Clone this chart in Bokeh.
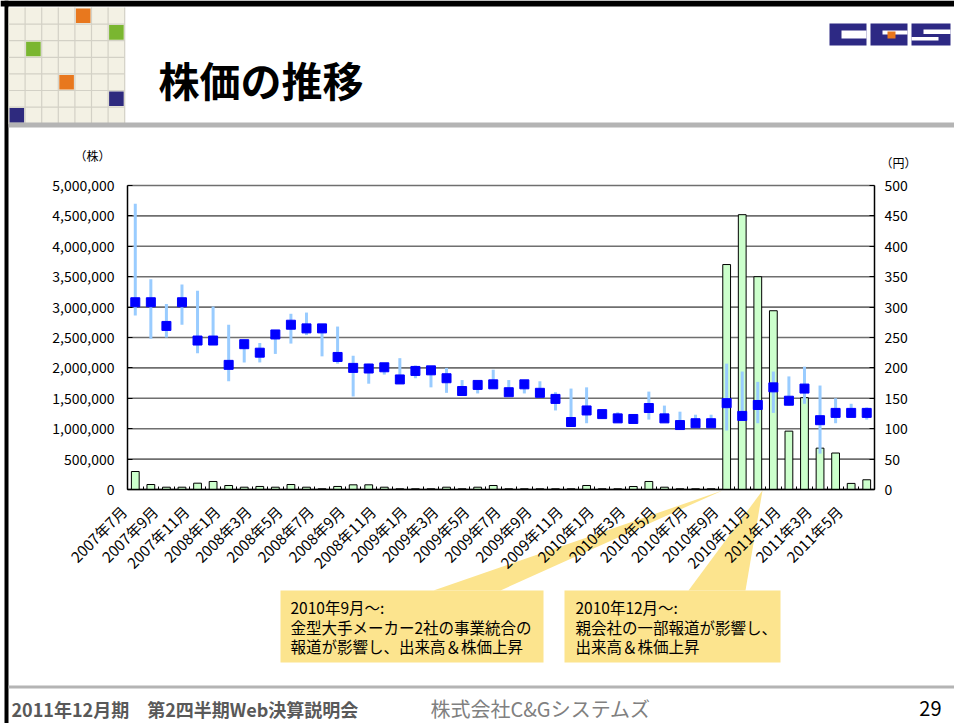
import math
from bokeh.plotting import figure
from bokeh.models import (Range1d, LinearAxis, FixedTicker, NumeralTickFormatter,
                          PolyAnnotation, Label)
from bokeh.embed import file_html
from bokeh.resources import INLINE

# ---------------- data ----------------
month_no = list(range(1, 49))  # 2007-07 ... 2011-06

volume = [296000, 82000, 38000, 38000, 104000, 132000, 66000, 38000, 50000, 38000,
          82000, 38000, 12000, 50000, 77000, 77000, 38000, 12000, 12000, 12000,
          38000, 12000, 38000, 66000, 12000, 12000, 12000, 12000, 12000, 66000,
          12000, 12000, 49000, 132000, 38000, 12000, 12000, 12000, 3700000, 4520000,
          3500000, 2940000, 960000, 1510000, 680000, 600000, 100000, 160000]

close = [308, 308, 269, 308, 245, 245, 205, 239, 225, 255,
         271, 265, 265, 218, 200, 199, 201, 181, 195, 196,
         183, 162, 172, 173, 160, 173, 159, 149, 111, 130,
         124, 117, 116, 134, 117, 106, 109, 109, 142, 121,
         139, 168, 146, 166, 114, 126, 126, 126]

high = [470, 346, 305, 337, 327, 301, 271, 245, 241, 262,
        289, 291, 271, 268, 220, 207, 207, 216, 204, 198,
        200, 180, 178, 197, 180, 180, 178, 160, 166, 168,
        129, 127, 123, 161, 138, 128, 123, 123, 207, 194,
        177, 194, 186, 202, 171, 150, 141, 135]

low = [286, 248, 250, 271, 224, 240, 178, 209, 209, 223,
       240, 254, 219, 207, 153, 174, 189, 178, 183, 168,
       159, 155, 158, 168, 155, 158, 157, 130, 108, 109,
       116, 114, 114, 115, 114, 104, 104, 104, 97, 117,
       109, 126, 138, 141, 59, 109, 122, 115]

tick_months = month_no[0::2]
tick_labels = ["2007年7月", "2007年9月", "2007年11月", "2008年1月", "2008年3月", "2008年5月",
               "2008年7月", "2008年9月", "2008年11月", "2009年1月", "2009年3月", "2009年5月",
               "2009年7月", "2009年9月", "2009年11月", "2010年1月", "2010年3月", "2010年5月",
               "2010年7月", "2010年9月", "2010年11月", "2011年1月", "2011年3月", "2011年5月"]

vol_max = 5000000
price_max = 500
vol_ticks = list(range(0, vol_max + 1, 500000))
price_ticks = list(range(0, price_max + 1, 50))

FONT = "Noto Sans CJK JP"

# ---------------- layout: the frame is the whole slide ----------------
W, H = 954, 723
PX_L, PX_R, PX_B, PX_T = 127, 874, 489, 185     # chart area on the page
n = len(month_no)
xs_per_px = n / (PX_R - PX_L)
x_lo, x_hi = 0.5, n + 0.5
xr = Range1d(x_lo - PX_L * xs_per_px, x_hi + (W - PX_R) * xs_per_px)
v_per_px = vol_max / (PX_B - PX_T)
yr = Range1d(-(H - PX_B) * v_per_px, vol_max + PX_T * v_per_px)
pr_per_px = price_max / (PX_B - PX_T)
pr = Range1d(-(H - PX_B) * pr_per_px, price_max + PX_T * pr_per_px)

p = figure(width=W, height=H, x_range=xr, y_range=yr,
           output_backend="svg", toolbar_location=None,
           x_axis_location=None, y_axis_location=None,
           min_border=0, min_border_left=0, min_border_right=0,
           min_border_top=0, min_border_bottom=0,
           background_fill_color="white", border_fill_color="white",
           outline_line_color=None)
p.extra_y_ranges = {"price": pr}
p.xgrid.visible = False
p.ygrid.visible = False

# x axis line with category-boundary ticks (sits on the zero line)
xa = LinearAxis(fixed_location=0, bounds=(x_lo, x_hi),
                ticker=FixedTicker(ticks=[], minor_ticks=[m + 0.5 for m in range(0, n + 1)]))
xa.major_tick_line_color = None
xa.major_label_text_alpha = 0
xa.minor_tick_in = 3
xa.minor_tick_out = 0
xa.minor_tick_line_color = "black"
xa.axis_line_color = "black"
xa.axis_line_width = 1.5
p.add_layout(xa, "below")

# x labels (rotated, ends anchored left of each labelled month)
off = 0.74
xt = [m - off for m in tick_months]
xl = LinearAxis(fixed_location=0, bounds=(x_lo - 1, x_hi),
                ticker=FixedTicker(ticks=xt, minor_ticks=[]))
xl.major_label_overrides = {t: l for t, l in zip(xt, tick_labels)}
xl.major_label_orientation = math.pi / 4
xl.axis_line_color = None
xl.major_tick_line_color = None
xl.minor_tick_line_color = None
xl.major_tick_in = 0
xl.major_tick_out = 0
xl.major_label_standoff = 19
xl.major_label_text_font = FONT
xl.major_label_text_font_size = "15px"
xl.major_label_text_color = "black"
p.add_layout(xl, "below")

# left axis (volume)
ya = LinearAxis(fixed_location=x_lo, bounds=(0, vol_max), ticker=FixedTicker(ticks=vol_ticks),
                formatter=NumeralTickFormatter(format="0,0"))
ya.major_tick_in = 5
ya.major_tick_out = 0
ya.minor_tick_line_color = None
ya.axis_line_color = "black"
ya.axis_line_width = 1.5
ya.major_label_standoff = 13
ya.major_label_text_font = FONT
ya.major_label_text_font_size = "14px"
ya.major_label_text_color = "black"
p.add_layout(ya, "left")

# right axis (price)
ra = LinearAxis(y_range_name="price", fixed_location=x_hi, bounds=(0, price_max),
                ticker=FixedTicker(ticks=price_ticks))
ra.major_tick_in = 5
ra.major_tick_out = 0
ra.minor_tick_line_color = None
ra.axis_line_color = "black"
ra.axis_line_width = 1.5
ra.major_label_standoff = 10
ra.major_label_text_font = FONT
ra.major_label_text_font_size = "14px"
ra.major_label_text_color = "black"
p.add_layout(ra, "right")

# horizontal grid lines at the volume ticks
p.segment(x0=x_lo, x1=x_hi, y0=vol_ticks, y1=vol_ticks, line_color="#6f6f6f", line_width=1.6)

# glyphs
p.vbar(x=month_no, top=volume, width=0.5, fill_color="#ccffcc", line_color="black", line_width=1)
p.segment(x0=month_no, y0=low, x1=month_no, y1=high, line_color="#99ccff", line_width=3,
          y_range_name="price")
p.scatter(x=month_no, y=close, marker="square", size=9, fill_color="#0000ff",
          line_color="#0000ff", y_range_name="price")

# ---------------- slide decorations (page px, screen units of the full-page frame) ----------------
def sx(X):
    return X

def sy(Y):
    return H - Y

def poly(pts, color, level="underlay"):
    p.add_layout(PolyAnnotation(xs=[sx(a) for a, b in pts], ys=[sy(b) for a, b in pts],
                                xs_units="screen", ys_units="screen",
                                fill_color=color, fill_alpha=1.0, line_color=None, level=level))

def box(x0, y0, x1, y1, color, level="underlay"):
    poly([(x0, y0), (x1, y0), (x1, y1), (x0, y1)], color, level)

def text(X, Y, s, size, color="black", bold=False, align="left", baseline="middle"):
    p.add_layout(Label(x=sx(X), y=sy(Y), x_units="screen", y_units="screen", text=s,
                       text_font=FONT, text_font_size=f"{size}px", text_color=color,
                       text_font_style="bold" if bold else "normal",
                       text_align=align, text_baseline=baseline))

# slide border
box(0, 0, 954, 6, "black")
box(4, 0, 8, 723, "black")

# mosaic
cell = 16.6
mx0, my0 = 8, 7
box(mx0, my0, mx0 + 7 * cell, my0 + 7 * cell, "#f3f1e4")
for i in range(1, 8):
    box(mx0 + i * cell - 0.6, my0, mx0 + i * cell + 0.6, my0 + 7 * cell, "#d3d1c6")
    box(mx0, my0 + i * cell - 0.6, mx0 + 7 * cell, my0 + i * cell + 0.6, "#d3d1c6")
for c, r, col in [(4, 0, "#e8781e"), (6, 1, "#7ab630"), (1, 2, "#7ab630"),
                  (3, 4, "#e8781e"), (6, 5, "#2e2a7e"), (0, 6, "#2e2a7e")]:
    box(mx0 + c * cell + 1, my0 + r * cell + 1, mx0 + (c + 1) * cell - 1, my0 + (r + 1) * cell - 1, col)

box(8, 122, 954, 127, "#b4b4b4")
box(8, 685, 954, 688, "#b4b4b4")

# logo
NAVY = "#2d2984"
box(829, 23, 866, 45, NAVY)
box(841, 30, 866, 38, "white")
box(870, 23, 907, 45, NAVY)
box(882, 30, 907, 34, "white")
box(887, 31, 895, 38, "#e8781e")
box(911, 23, 950, 45, NAVY)
box(923, 29, 950, 33.5, "white")
box(911, 36.5, 938, 40, "white")

# title
text(158, 78, "株価の推移", 41, bold=True)

# unit labels
text(92, 155, "（株）", 12, align="center")
text(898, 162, "（円）", 12, align="center")

# callouts
YEL = "#fce48e"
poly([(722, 490), (433, 590), (500, 590)], YEL)
poly([(762, 490), (688, 590), (745, 590)], YEL)
box(280, 590, 543, 662, YEL)
box(564, 590, 780, 662, YEL)
for X, lines in [(290, ["2010年9月～:", "金型大手メーカー2社の事業統合の", "報道が影響し、出来高＆株価上昇"]),
                 (575, ["2010年12月～:", "親会社の一部報道が影響し、", "出来高＆株価上昇"])]:
    for Y, s in zip([606, 626, 645], lines):
        text(X, Y, s, 15.5)

# footer
text(11, 708, "2011年12月期　第2四半期Web決算説明会", 18, color="#595959", bold=True)
text(430, 708, "株式会社C&Gシステムズ", 20, color="#808080")
text(941, 708, "29", 20, align="right")

open("out.html", "w").write(file_html(p, INLINE))
